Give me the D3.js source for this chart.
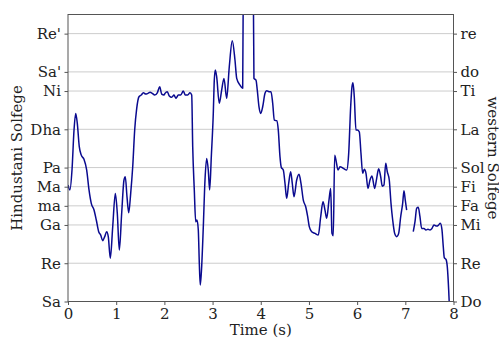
<!DOCTYPE html>
<html>
<head>
<meta charset="utf-8">
<script src="https://cdn.jsdelivr.net/npm/d3@7"></script>
<style>
  body { margin: 0; background: #fff; }
  svg { display: block; }
  .tick text { font-family: "DejaVu Serif", serif; font-size: 15px; fill: #222; }
  .axis-label { font-family: "DejaVu Serif", serif; font-size: 15px; fill: #222; }
</style>
</head>
<body>
<svg id="chart"></svg>
<script>
// pitch track: time in seconds, pitch in semitones above Sa (null = unvoiced)
const times = [
  0, 0.04, 0.083, 0.125, 0.16, 0.193, 0.234, 0.276, 0.332, 0.388, 0.436, 0.483, 0.54, 0.587, 0.637, 0.679, 0.72, 0.762, 0.803, 0.836,
  0.878, 0.928, 0.982, 1.023, 1.065, 1.114, 1.162, 1.189, 1.224, 1.26, 1.301, 1.343, 1.384, 1.426, 1.473, 1.521, 1.563, 1.612, 1.66, 1.702,
  1.749, 1.799, 1.853, 1.903, 1.944, 1.992, 2.013, 2.061, 2.102, 2.152, 2.2, 2.241, 2.289, 2.339, 2.393, 2.434, 2.484, 2.532, 2.567, 2.588,
  2.621, 2.65, 2.677, 2.704, 2.725, 2.745, 2.774, 2.808, 2.843, 2.878, 2.911, 2.94, 2.974, 3.015, 3.036, 3.057, 3.085, 3.139, 3.189, 3.237,
  3.293, 3.347, 3.409, 3.465, 3.501, 3.569, 3.625, 3.638, 3.7, 3.8, 3.845, 3.859, 3.901, 3.928, 3.963, 3.999, 4.04, 4.088, 4.123, 4.171,
  4.212, 4.248, 4.281, 4.331, 4.364, 4.399, 4.426, 4.468, 4.503, 4.538, 4.58, 4.621, 4.654, 4.69, 4.746, 4.794, 4.835, 4.883, 4.933, 4.974,
  5.007, 5.057, 5.126, 5.194, 5.244, 5.292, 5.333, 5.368, 5.416, 5.451, 5.478, 5.505, 5.534, 5.561, 5.603, 5.644, 5.713, 5.783, 5.825, 5.866,
  5.893, 5.914, 5.941, 5.976, 6.003, 6.045, 6.08, 6.115, 6.149, 6.184, 6.225, 6.267, 6.308, 6.364, 6.406, 6.447, 6.489, 6.522, 6.557, 6.593,
  6.626, 6.667, 6.703, 6.738, 6.779, 6.821, 6.862, 6.904, 6.945, 6.972, 6.999, 7.028, 7.1, 7.165, 7.201, 7.236, 7.269, 7.304, 7.339, 7.387,
  7.429, 7.47, 7.512, 7.553, 7.595, 7.651, 7.692, 7.726, 7.761, 7.788, 7.809, 7.844, 7.871, 7.9, 7.912, 7.925
]
const pitch = [
  6.09, 5.83, 6.87, 8.96, 9.83, 9.31, 8.09, 7.65, 7.43, 6.87, 5.83, 5.13, 4.78, 4.26, 3.65, 3.47, 3.18, 3.39, 3.65, 3.39,
  2.26, 3.91, 5.65, 4.61, 2.69, 4.61, 6.35, 6.52, 5.48, 4.64, 5.65, 7.04, 8.96, 10.09, 10.70, 10.79, 10.91, 10.84, 10.88, 10.93,
  10.88, 10.79, 10.91, 11.22, 10.84, 10.79, 10.88, 10.96, 10.74, 10.67, 10.79, 10.62, 10.79, 10.79, 11.0, 10.79, 10.79, 10.91, 10.79, 8.09,
  5.83, 4.17, 4.26, 3.74, 2.0, 0.86, 1.82, 3.91, 6.35, 7.48, 6.87, 5.83, 7.57, 9.83, 11.57, 12.10, 11.75, 10.36, 11.05, 11.66,
  10.62, 12.27, 13.63, 12.62, 11.66, 11.31, 11.14, 16.5, 17, 17, 16.5, 11.66, 11.57, 11.05, 10.18, 9.83, 10.18, 10.88, 11.02, 10.96,
  10.96, 10.36, 9.48, 9.45, 8.96, 7.57, 7.01, 6.87, 6.18, 5.39, 6.18, 6.78, 6.18, 5.48, 6.35, 6.65, 6.18, 5.30, 4.95, 4.43,
  3.91, 3.65, 3.56, 3.47, 4.43, 5.21, 4.78, 4.35, 5.30, 5.91, 3.56, 3.44, 7.65, 7.39, 6.87, 7.04, 6.96, 6.87, 7.74, 10.18,
  11.22, 11.43, 10.70, 8.96, 8.96, 8.87, 7.74, 6.70, 6.91, 6.70, 5.91, 6.35, 6.56, 5.91, 6.44, 6.94, 6.52, 6.03, 6.09, 7.22,
  6.78, 6.35, 5.13, 4.26, 3.56, 3.39, 3.56, 4.43, 5.13, 5.79, 5.30, 4.78, null, 3.65, 4.17, 4.87, 4.92, 4.43, 3.82, 3.82,
  3.74, 3.77, 3.74, 3.82, 4.0, 3.94, 4.0, 4.09, 3.74, 2.86, 2.29, 2.20, 1.82, 0.60, -0.08, -0.6
]

const noteSteps = [0, 2, 4, 5, 6, 7, 9, 11, 12, 14]
const hindustaniLabels = ['Sa', 'Re', 'Ga', 'ma', 'Ma', 'Pa', 'Dha', 'Ni', "Sa'", "Re'"]
const westernLabels = ['Do', 'Re', 'Mi', 'Fa', 'Fi', 'Sol', 'La', 'Ti', 'do', 're']
const timeTicks = [0, 1, 2, 3, 4, 5, 6, 7, 8]

const W = 499, H = 340
const MARGIN = { top: 14.5, right: 45.5, bottom: 38.5, left: 68 }
const boundedWidth = W - MARGIN.left - MARGIN.right
const boundedHeight = H - MARGIN.top - MARGIN.bottom

const $svg = d3.select('#chart').attr('width', W).attr('height', H)
const $gVis = $svg.append('g').attr('transform', `translate(${MARGIN.left}, ${MARGIN.top})`)

const xScale = d3.scaleLinear().domain([0, 8]).range([0, boundedWidth])
const yScale = d3.scaleLinear().domain([0, 15]).range([boundedHeight, 0])

// grid
$gVis.append('g')
  .selectAll('line')
  .data(noteSteps)
  .join('line')
  .attr('x1', 0)
  .attr('x2', boundedWidth)
  .attr('y1', d => yScale(d))
  .attr('y2', d => yScale(d))
  .attr('stroke', '#cccccc')
  .attr('stroke-width', 1)

// pitch line
$svg.append('clipPath').attr('id', 'clip')
  .append('rect').attr('width', boundedWidth).attr('height', boundedHeight)

const dataset = times.map((t, i) => ({ t, p: pitch[i] }))
const lineGen = d3.line()
  .defined(d => d.p !== null)
  .x(d => xScale(d.t))
  .y(d => yScale(d.p))
  .curve(d3.curveMonotoneX)

$gVis.append('path')
  .datum(dataset)
  .attr('clip-path', 'url(#clip)')
  .attr('fill', 'none')
  .attr('stroke', '#0a0a8f')
  .attr('stroke-width', 1.5)
  .attr('stroke-linejoin', 'round')
  .attr('d', lineGen)

// axes
const yLeft = $gVis.append('g')
  .call(d3.axisLeft(yScale).tickValues(noteSteps)
    .tickFormat((d, i) => hindustaniLabels[i]).tickSize(3.5).tickPadding(3.5).tickSizeOuter(0))
const yRight = $gVis.append('g')
  .attr('transform', `translate(${boundedWidth}, 0)`)
  .call(d3.axisRight(yScale).tickValues(noteSteps)
    .tickFormat((d, i) => westernLabels[i]).tickSize(3.5).tickPadding(3.5).tickSizeOuter(0))
const xAxis = $gVis.append('g')
  .attr('transform', `translate(0, ${boundedHeight})`)
  .call(d3.axisBottom(xScale).tickValues(timeTicks).tickSize(3.5).tickPadding(3).tickSizeOuter(0))

$svg.selectAll('.domain').remove()
$svg.selectAll('.tick line').attr('stroke', '#555')

// frame
$gVis.append('rect')
  .attr('width', boundedWidth)
  .attr('height', boundedHeight)
  .attr('fill', 'none')
  .attr('stroke', '#555')
  .attr('stroke-width', 1)

// labels
$svg.append('text')
  .attr('class', 'axis-label')
  .attr('text-anchor', 'middle')
  .attr('transform', `translate(${MARGIN.left + boundedWidth / 2}, 335)`)
  .text('Time (s)')

$svg.append('text')
  .attr('class', 'axis-label')
  .attr('text-anchor', 'middle')
  .attr('transform', `translate(22, ${MARGIN.top + boundedHeight / 2}) rotate(-90)`)
  .text('Hindustani Solfege')

$svg.append('text')
  .attr('class', 'axis-label')
  .attr('text-anchor', 'middle')
  .attr('transform', `translate(488, ${MARGIN.top + boundedHeight / 2}) rotate(90)`)
  .text('western Solfege')
</script>
</body>
</html>
